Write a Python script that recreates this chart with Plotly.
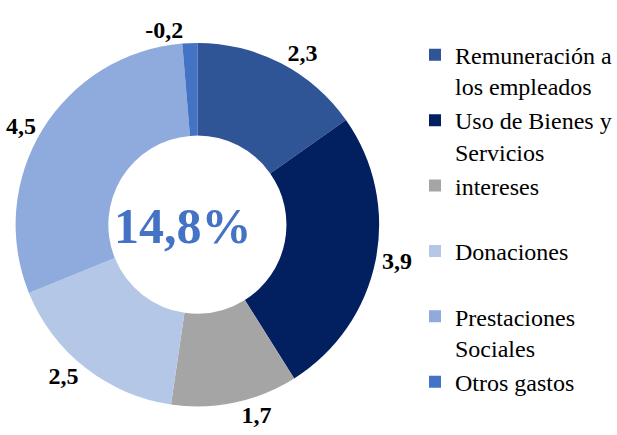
import plotly.graph_objects as go

# Gasto por componente (puntos del PIB)
categorias = [
    "Remuneración a<br>los empleados",
    "Uso de Bienes y<br>Servicios",
    "intereses<br> ",
    "Donaciones<br> ",
    "Prestaciones<br>Sociales",
    "Otros gastos",
]
valores = [2.3, 3.9, 1.7, 2.5, 4.5, -0.2]
colores = ["#2F5597", "#022060", "#A5A5A5", "#B4C7E7", "#8FAADC", "#4472C4"]
total_texto = "14,8%"

fig = go.Figure(
    go.Pie(
        labels=categorias,
        values=[abs(v) for v in valores],
        customdata=valores,
        texttemplate="%{customdata:.1f}",
        textposition="outside",
        textfont=dict(family="Liberation Serif", size=24, color="black", weight="bold"),
        marker=dict(colors=colores, line=dict(width=0)),
        hole=0.49,
        sort=False,
        direction="clockwise",
        rotation=0,
        domain=dict(x=[0.019, 0.613], y=[0.064, 0.903]),
        hoverinfo="skip",
    )
)

fig.add_annotation(
    x=0.292, y=0.481, xref="paper", yref="paper",
    xanchor="center", yanchor="middle",
    text=total_texto, showarrow=False,
    font=dict(family="Liberation Serif", size=50, color="#4472C4", weight="bold"),
)

fig.update_layout(
    width=617, height=435,
    margin=dict(l=0, r=0, t=0, b=0),
    separators=",.",
    paper_bgcolor="white",
    plot_bgcolor="white",
    showlegend=True,
    legend=dict(
        x=0.672, y=0.925, xanchor="left", yanchor="top",
        font=dict(family="Liberation Serif", size=24, color="black"),
        traceorder="normal",
        itemwidth=30,
        valign="top",
    ),
)

fig.write_html("out.html")
